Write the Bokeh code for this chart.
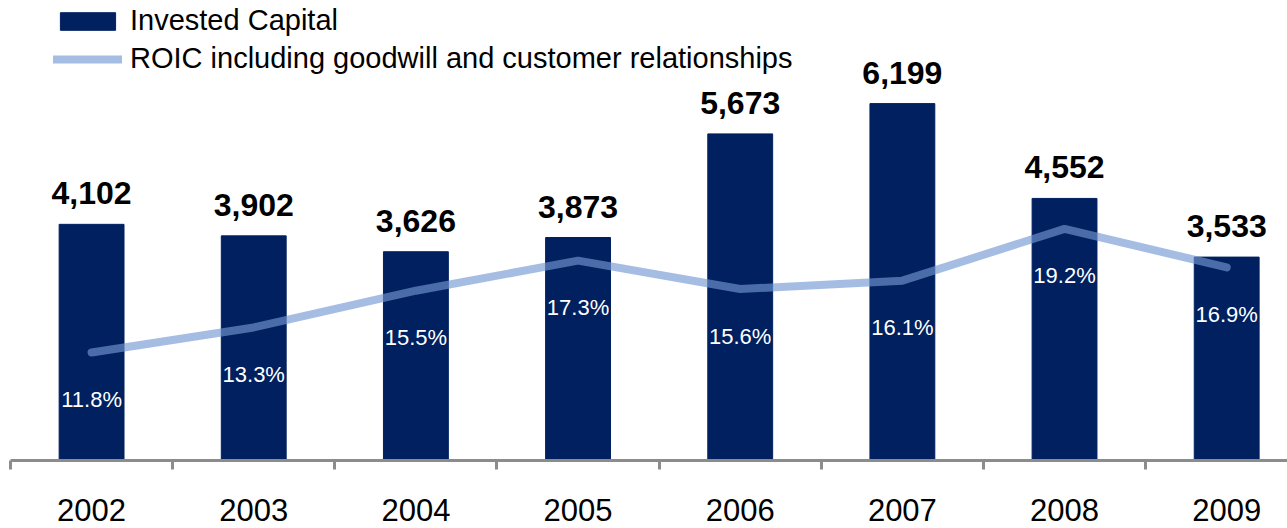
from bokeh.plotting import figure
from bokeh.models import (Range1d, LinearAxis, FixedTicker, Legend, LegendItem,
                          ColumnDataSource)
from bokeh.embed import file_html
from bokeh.resources import INLINE

years = ["2002", "2003", "2004", "2005", "2006", "2007", "2008", "2009"]
invested_capital = [4102, 3902, 3626, 3873, 5673, 6199, 4552, 3533]
roic = [11.8, 13.3, 15.5, 17.3, 15.6, 16.1, 19.2, 16.9]

xs = list(range(len(years)))
src = ColumnDataSource(dict(
    x=xs,
    ic=invested_capital,
    ic_lbl=[f"{v:,}" for v in invested_capital],
    roic=roic,
    roic_lbl=[f"{v:.1f}%" for v in roic],
))

FONT = "Liberation Sans"
NAVY = "#002060"

p = figure(width=1287, height=528, output_backend="svg", toolbar_location=None,
           x_range=Range1d(-0.5, 7.375), y_range=Range1d(0, 7990),
           x_axis_location=None, y_axis_location=None,
           min_border_left=10, min_border_right=0, min_border_top=0,
           min_border_bottom=68)
p.outline_line_color = None
p.grid.visible = False
p.background_fill_color = "white"
p.border_fill_color = "white"

p.extra_y_ranges = {"roic": Range1d(5.33, 32.88)}

bars = p.vbar(x="x", top="ic", width=0.4, source=src, fill_color=NAVY,
              line_color=NAVY)

line = p.line(x="x", y="roic", source=src, y_range_name="roic",
              line_color="#7498d3", line_alpha=0.64, line_width=8,
              line_cap="round", line_join="round")

p.text(x="x", y="ic", text="ic_lbl", source=src, text_align="center",
       text_baseline="alphabetic", y_offset=-31, text_color="black",
       text_font={"value": FONT}, text_font_style="bold",
       text_font_size="32px")

p.text(x="x", y="roic", text="roic_lbl", source=src, y_range_name="roic",
       text_align="center", text_baseline="middle", y_offset=47,
       text_color="white", text_font={"value": FONT}, text_font_size="22px")

# axis with boundary ticks
ax1 = LinearAxis(ticker=FixedTicker(ticks=[i - 0.5 for i in xs] + [len(xs) - 0.5],
                                    minor_ticks=[]))
ax1.axis_line_color = "#8c8c8c"
ax1.axis_line_width = 3
ax1.major_tick_line_color = "#8c8c8c"
ax1.major_tick_line_width = 3
ax1.major_tick_in = 0
ax1.major_tick_out = 9
ax1.minor_tick_line_color = None
ax1.major_label_text_font_size = "0px"
ax1.major_label_text_alpha = 0
ax1.major_label_standoff = 0
p.add_layout(ax1, "below")

# axis with centered year labels
ax2 = LinearAxis(ticker=FixedTicker(ticks=xs, minor_ticks=[]),
                 major_label_overrides={i: y for i, y in zip(xs, years)})
ax2.axis_line_color = None
ax2.major_tick_line_color = None
ax2.minor_tick_line_color = None
ax2.major_tick_in = 0
ax2.major_tick_out = 0
ax2.major_label_text_font = FONT
ax2.major_label_text_font_size = "31px"
ax2.major_label_text_color = "black"
ax2.major_label_standoff = 29
p.add_layout(ax2, "below")

legend = Legend(items=[
    LegendItem(label="Invested Capital", renderers=[bars]),
    LegendItem(label="ROIC including goodwill and customer relationships", renderers=[line]),
], location=(43, 385), orientation="vertical")
legend.glyph_width = 69
legend.glyph_height = 22
legend.label_standoff = 8
legend.label_text_font = FONT
legend.label_text_font_size = "29px"
legend.label_text_color = "black"
legend.padding = 0
legend.margin = 0
legend.spacing = 5
legend.background_fill_alpha = 0
legend.border_line_alpha = 0
p.add_layout(legend, "center")

open("out.html", "w").write(file_html(p, INLINE))
